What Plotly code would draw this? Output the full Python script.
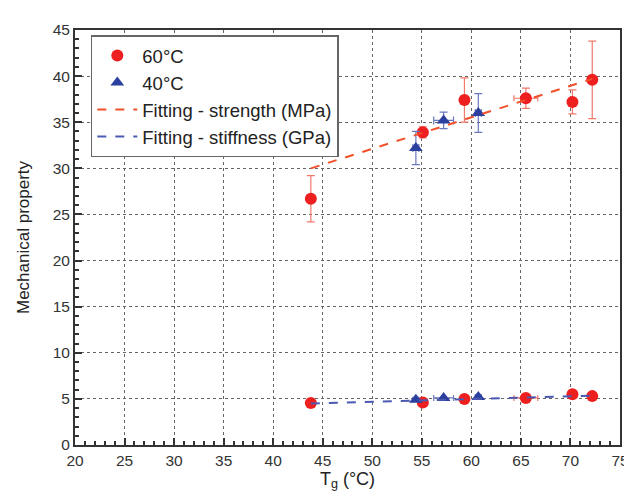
import plotly.graph_objects as go

# 60°C samples
tg_60 = [43.8, 55.1, 59.3, 65.5, 70.2, 72.2]
tg_60_err = [0.3, 0.5, 0.3, 1.2, 0.3, 0.3]
strength_60 = [26.7, 33.9, 37.4, 37.6, 37.2, 39.6]
strength_60_err = [2.5, 0.6, 2.4, 1.1, 1.3, 4.2]
stiffness_60 = [4.55, 4.6, 5.0, 5.1, 5.5, 5.3]
stiffness_60_err = [0.15, 0.15, 0.15, 0.2, 0.2, 0.15]

# 40°C samples
tg_40 = [54.4, 57.2, 60.7]
tg_40_err = [0.3, 1.0, 0.3]
strength_40 = [32.2, 35.2, 36.0]
strength_40_err = [1.8, 0.9, 2.1]
stiffness_40 = [4.9, 5.1, 5.2]
stiffness_40_err = [0.15, 0.15, 0.15]

# linear fit end points
fit_x = [43.8, 72.2]
fit_strength = [30.0, 39.7]
fit_stiffness = [4.5, 5.35]

RED = '#ee1f1f'
RED_ERR = '#f07a6a'
BLUE = '#2b3f9e'
BLUE_ERR = '#6a78c0'

fig = go.Figure()

# stiffness points (legend shared with the strength ones)
fig.add_trace(go.Scatter(
    x=tg_60, y=stiffness_60, mode='markers', showlegend=False,
    marker=dict(color=RED, size=12),
    error_x=dict(array=tg_60_err, color=RED_ERR, thickness=1.2, width=3),
    error_y=dict(array=stiffness_60_err, color=RED_ERR, thickness=1.2, width=3)))
fig.add_trace(go.Scatter(
    x=tg_40, y=stiffness_40, mode='markers', showlegend=False,
    marker=dict(color=BLUE, size=12, symbol='triangle-up'),
    error_x=dict(array=tg_40_err, color=BLUE_ERR, thickness=1.2, width=3),
    error_y=dict(array=stiffness_40_err, color=BLUE_ERR, thickness=1.2, width=3)))

fig.add_trace(go.Scatter(
    x=tg_60, y=strength_60, mode='markers', name='60°C',
    marker=dict(color=RED, size=12),
    error_x=dict(array=tg_60_err, color=RED_ERR, thickness=1.2, width=3),
    error_y=dict(array=strength_60_err, color=RED_ERR, thickness=1.2, width=4)))
fig.add_trace(go.Scatter(
    x=tg_40, y=strength_40, mode='markers', name='40°C',
    marker=dict(color=BLUE, size=12, symbol='triangle-up'),
    error_x=dict(array=tg_40_err, color=BLUE_ERR, thickness=1.2, width=4),
    error_y=dict(array=strength_40_err, color=BLUE_ERR, thickness=1.2, width=4)))

fig.add_trace(go.Scatter(
    x=fit_x, y=fit_strength, mode='lines', name='Fitting - strength (MPa)',
    line=dict(color='#f0502a', width=2, dash='dash')))
fig.add_trace(go.Scatter(
    x=fit_x, y=fit_stiffness, mode='lines', name='Fitting - stiffness (GPa)',
    line=dict(color='#4a5ab0', width=2, dash='dash')))

axis_common = dict(
    showline=True, linecolor='#333333', linewidth=2, mirror=True,
    ticks='inside', ticklen=7, tickwidth=1.5, tickcolor='#333333',
    showgrid=True, gridcolor='#666666', gridwidth=1, griddash='dot',
    zeroline=False, tickfont=dict(size=15.5, color='#333333'),
    minor=dict(ticks='inside', ticklen=4, tickcolor='#333333', showgrid=False),
)

fig.update_xaxes(range=[20, 75], dtick=5, **axis_common,
                 title=dict(text='T<sub>g</sub> (°C)', font=dict(size=18, color='#222222'),
                            standoff=4))
fig.update_yaxes(range=[0, 45], dtick=5, **axis_common,
                 title=dict(text='Mechanical property', font=dict(size=17, color='#222222'),
                            standoff=19))

fig.update_layout(
    width=632, height=498,
    margin=dict(l=67, r=11, t=22, b=61),
    paper_bgcolor='white', plot_bgcolor='white',
    font=dict(family='Liberation Sans, Arial, sans-serif', color='#222222'),
    legend=dict(x=0.029, y=0.987, xanchor='left', yanchor='top',
                bgcolor='white', bordercolor='#666666', borderwidth=1.5,
                font=dict(size=18.5, color='#222222'), tracegroupgap=0,
                itemwidth=40),
)

fig.write_html("out.html")
